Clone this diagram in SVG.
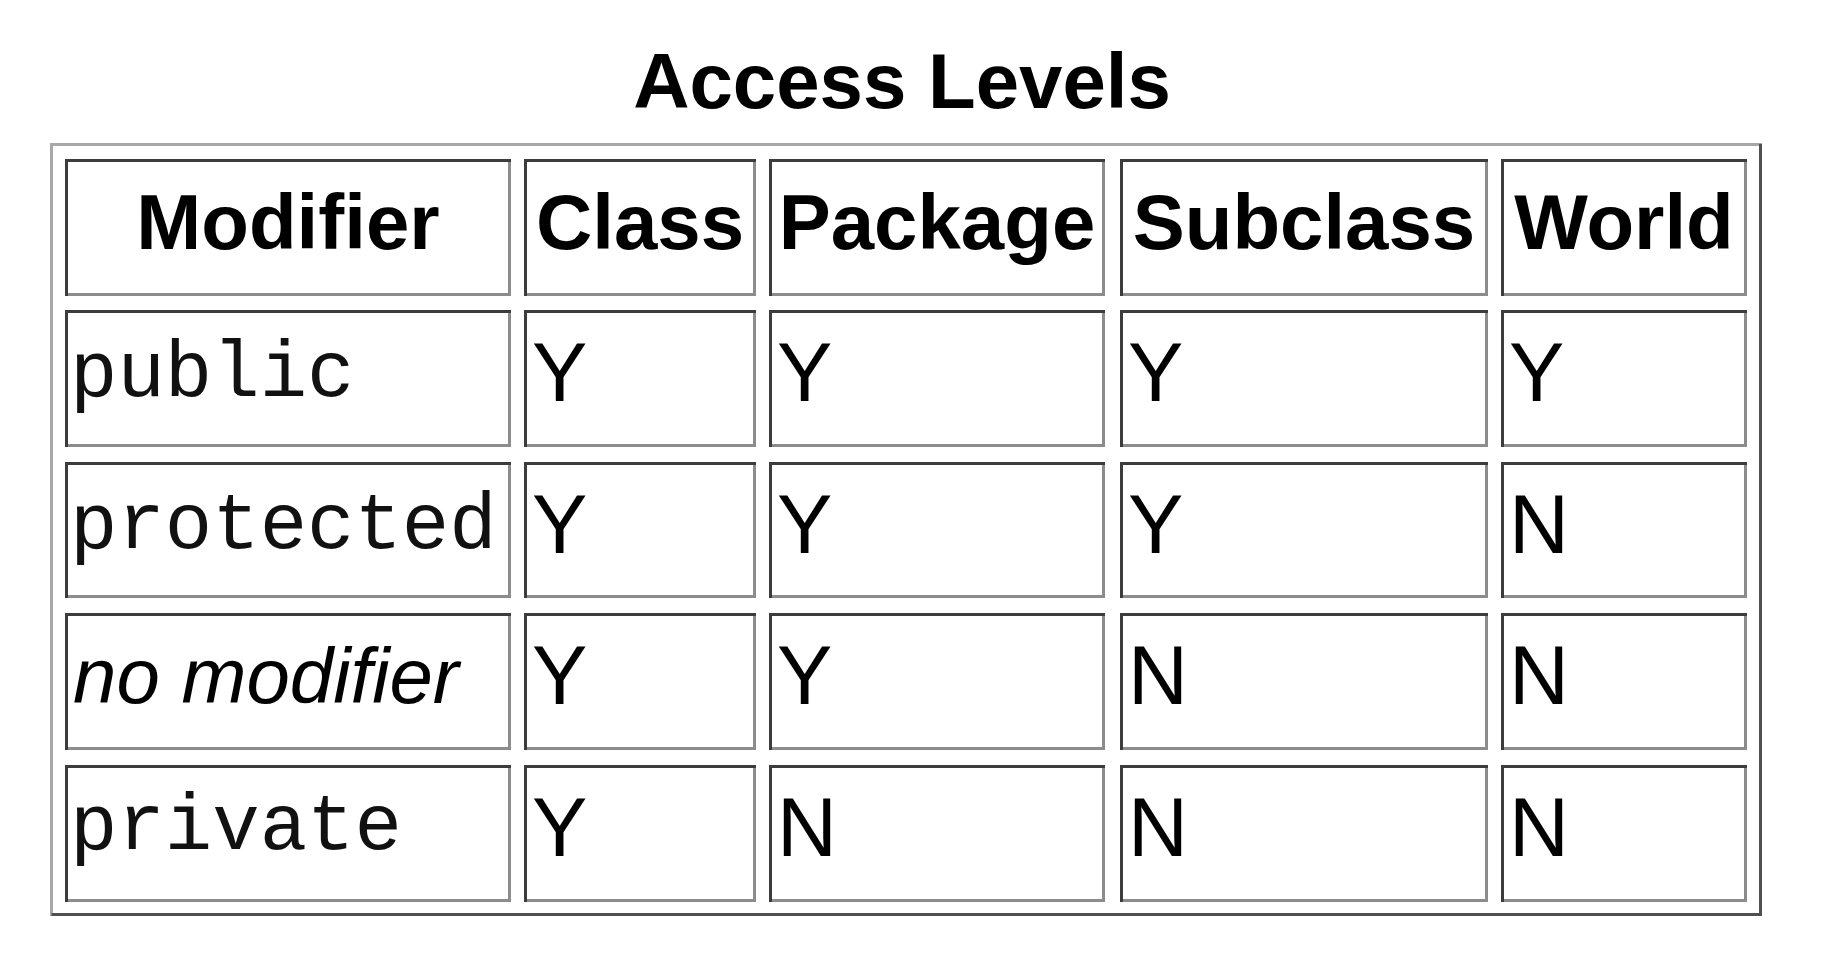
<svg xmlns="http://www.w3.org/2000/svg" width="1826" height="960" viewBox="0 0 1826 960">
<style>
.bg{fill:#ffffff}
.lo{fill:none;stroke:#8c8c8c;stroke-width:3}
.hi{fill:none;stroke:#3c3c3c;stroke-width:3}
.olo{fill:none;stroke:#a8a8a8;stroke-width:3}
.ohi{fill:none;stroke:#505050;stroke-width:3}
.title{font-family:"Liberation Sans",Arial,sans-serif;font-weight:bold;font-size:78px;fill:#000;text-anchor:middle}
.th{font-family:"Liberation Sans",Arial,sans-serif;font-weight:bold;font-size:78px;fill:#000;text-anchor:middle}
.td{font-family:"Liberation Sans",Arial,sans-serif;font-size:83px;fill:#000}
.mono{font-family:"Liberation Mono","Courier New",monospace;font-size:79px;fill:#111}
.it{font-family:"Liberation Sans",Arial,sans-serif;font-style:italic;font-size:78px;fill:#000}
</style>
<rect class="bg" x="0" y="0" width="1826" height="960"/>
<text id="title" class="title" x="902" y="108">Access Levels</text>
<g id="table">
<path class="olo" d="M51.5 916 V144.5 H1762"/>
<path class="ohi" d="M51.5 914.5 H1760.5 V144"/>
</g>
<g id="cells">
<!-- header row -->
<g id="h-modifier"><rect class="lo" x="66.5" y="160.5" width="443" height="134"/><path class="hi" d="M66.5 296 V160.5 H511"/><text class="th" x="288" y="249">Modifier</text></g>
<g id="h-class"><rect class="lo" x="525.5" y="160.5" width="229" height="134"/><path class="hi" d="M525.5 296 V160.5 H756"/><text class="th" x="640" y="249">Class</text></g>
<g id="h-package"><rect class="lo" x="770.5" y="160.5" width="333" height="134"/><path class="hi" d="M770.5 296 V160.5 H1105"/><text class="th" x="937" y="249">Package</text></g>
<g id="h-subclass"><rect class="lo" x="1121.5" y="160.5" width="365" height="134"/><path class="hi" d="M1121.5 296 V160.5 H1488"/><text class="th" x="1304" y="249">Subclass</text></g>
<g id="h-world"><rect class="lo" x="1502.5" y="160.5" width="243" height="134"/><path class="hi" d="M1502.5 296 V160.5 H1747"/><text class="th" x="1624" y="249">World</text></g>
<!-- row public -->
<g id="r1-mod"><rect class="lo" x="66.5" y="311.5" width="443" height="134"/><path class="hi" d="M66.5 447 V311.5 H511"/><text class="mono" x="70" y="396">public</text></g>
<g id="r1-class"><rect class="lo" x="525.5" y="311.5" width="229" height="134"/><path class="hi" d="M525.5 447 V311.5 H756"/><text class="td" x="532" y="401">Y</text></g>
<g id="r1-package"><rect class="lo" x="770.5" y="311.5" width="333" height="134"/><path class="hi" d="M770.5 447 V311.5 H1105"/><text class="td" x="777" y="401">Y</text></g>
<g id="r1-subclass"><rect class="lo" x="1121.5" y="311.5" width="365" height="134"/><path class="hi" d="M1121.5 447 V311.5 H1488"/><text class="td" x="1128" y="401">Y</text></g>
<g id="r1-world"><rect class="lo" x="1502.5" y="311.5" width="243" height="134"/><path class="hi" d="M1502.5 447 V311.5 H1747"/><text class="td" x="1509" y="401">Y</text></g>
<!-- row protected -->
<g id="r2-mod"><rect class="lo" x="66.5" y="463.5" width="443" height="133"/><path class="hi" d="M66.5 598 V463.5 H511"/><text class="mono" x="70" y="548">protected</text></g>
<g id="r2-class"><rect class="lo" x="525.5" y="463.5" width="229" height="133"/><path class="hi" d="M525.5 598 V463.5 H756"/><text class="td" x="532" y="553">Y</text></g>
<g id="r2-package"><rect class="lo" x="770.5" y="463.5" width="333" height="133"/><path class="hi" d="M770.5 598 V463.5 H1105"/><text class="td" x="777" y="553">Y</text></g>
<g id="r2-subclass"><rect class="lo" x="1121.5" y="463.5" width="365" height="133"/><path class="hi" d="M1121.5 598 V463.5 H1488"/><text class="td" x="1128" y="553">Y</text></g>
<g id="r2-world"><rect class="lo" x="1502.5" y="463.5" width="243" height="133"/><path class="hi" d="M1502.5 598 V463.5 H1747"/><text class="td" x="1509" y="553">N</text></g>
<!-- row no modifier -->
<g id="r3-mod"><rect class="lo" x="66.5" y="614.5" width="443" height="134"/><path class="hi" d="M66.5 750 V614.5 H511"/><text class="it" x="73" y="703">no modifier</text></g>
<g id="r3-class"><rect class="lo" x="525.5" y="614.5" width="229" height="134"/><path class="hi" d="M525.5 750 V614.5 H756"/><text class="td" x="532" y="704">Y</text></g>
<g id="r3-package"><rect class="lo" x="770.5" y="614.5" width="333" height="134"/><path class="hi" d="M770.5 750 V614.5 H1105"/><text class="td" x="777" y="704">Y</text></g>
<g id="r3-subclass"><rect class="lo" x="1121.5" y="614.5" width="365" height="134"/><path class="hi" d="M1121.5 750 V614.5 H1488"/><text class="td" x="1128" y="704">N</text></g>
<g id="r3-world"><rect class="lo" x="1502.5" y="614.5" width="243" height="134"/><path class="hi" d="M1502.5 750 V614.5 H1747"/><text class="td" x="1509" y="704">N</text></g>
<!-- row private -->
<g id="r4-mod"><rect class="lo" x="66.5" y="766.5" width="443" height="134"/><path class="hi" d="M66.5 902 V766.5 H511"/><text class="mono" x="70" y="849">private</text></g>
<g id="r4-class"><rect class="lo" x="525.5" y="766.5" width="229" height="134"/><path class="hi" d="M525.5 902 V766.5 H756"/><text class="td" x="532" y="856">Y</text></g>
<g id="r4-package"><rect class="lo" x="770.5" y="766.5" width="333" height="134"/><path class="hi" d="M770.5 902 V766.5 H1105"/><text class="td" x="777" y="856">N</text></g>
<g id="r4-subclass"><rect class="lo" x="1121.5" y="766.5" width="365" height="134"/><path class="hi" d="M1121.5 902 V766.5 H1488"/><text class="td" x="1128" y="856">N</text></g>
<g id="r4-world"><rect class="lo" x="1502.5" y="766.5" width="243" height="134"/><path class="hi" d="M1502.5 902 V766.5 H1747"/><text class="td" x="1509" y="856">N</text></g>
</g>
<g id="connectors"/>
</svg>
